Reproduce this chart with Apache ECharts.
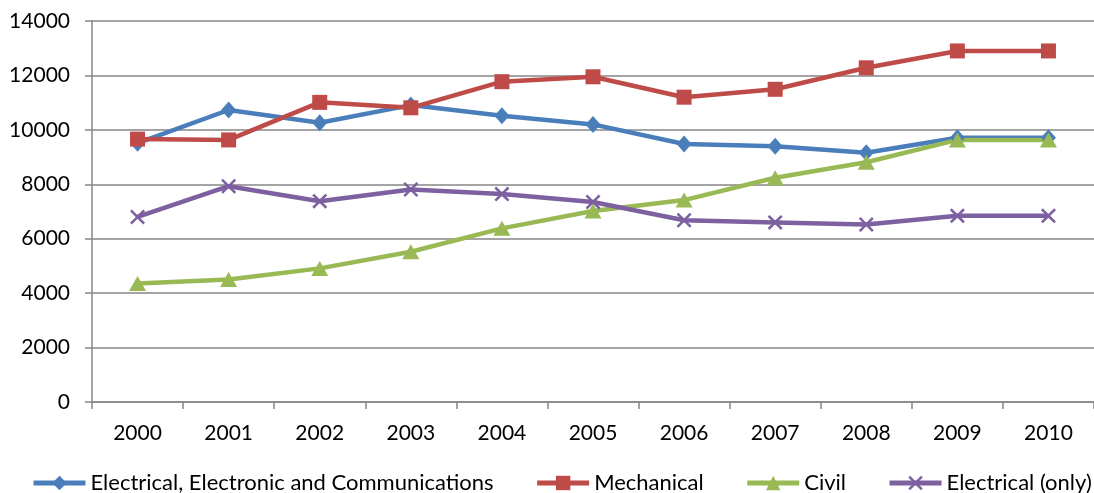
<!DOCTYPE html>
<html>
<head>
<meta charset="utf-8">
<script src="https://cdn.jsdelivr.net/npm/echarts@6/dist/echarts.min.js"></script>
<style>
  html, body { margin: 0; padding: 0; background: #fff; }
  #chart { width: 1094px; height: 493px; }
</style>
</head>
<body>
<div id="chart"></div>
<script>
// Graduates by engineering discipline, 2000-2010
const years = ['2000', '2001', '2002', '2003', '2004', '2005', '2006', '2007', '2008', '2009', '2010'];
const electricalElectronicComms = [9510, 10730, 10260, 10910, 10520, 10200, 9480, 9400, 9160, 9710, 9710];
const mechanical = [9660, 9630, 11010, 10810, 11770, 11950, 11200, 11490, 12280, 12900, 12900];
const civil = [4350, 4500, 4910, 5520, 6380, 7020, 7420, 8240, 8810, 9630, 9630];
const electricalOnly = [6800, 7930, 7380, 7810, 7640, 7350, 6680, 6600, 6520, 6840, 6840];
const yTicks = [0, 2000, 4000, 6000, 8000, 10000, 12000, 14000];

const FONT = 'Lato, "Open Sans", sans-serif';
const crossPath = 'path://M0,1.2 L1.2,0 L5,3.8 L8.8,0 L10,1.2 L6.2,5 L10,8.8 L8.8,10 L5,6.2 L1.2,10 L0,8.8 L3.8,5 Z';

function lineSeries(name, data, color, symbol, size) {
  return {
    name: name,
    type: 'line',
    data: data,
    symbol: symbol,
    symbolSize: size,
    showAllSymbol: true,
    lineStyle: { color: color, width: 4.5 },
    itemStyle: { color: color, borderWidth: 0 },
    emphasis: { disabled: true },
    animation: false
  };
}

const chart = echarts.init(document.getElementById('chart'), null, { renderer: 'canvas' });
chart.setOption({
  backgroundColor: '#ffffff',
  textStyle: { fontFamily: FONT },
  grid: { left: 92, right: 0, top: 21, bottom: 91, containLabel: false },
  legend: {
    left: 31,
    top: 472,
    width: 1063,
    padding: 0,
    itemWidth: 52,
    itemHeight: 18,
    itemGap: 41,
    lineStyle: { width: 5 },
    textStyle: { fontFamily: FONT, fontSize: 22, color: '#000', padding: [0, 0, 0, 0] },
    data: ['Electrical, Electronic and Communications', 'Mechanical', 'Civil', 'Electrical (only)']
  },
  xAxis: {
    type: 'category',
    data: years,
    boundaryGap: true,
    axisLine: { lineStyle: { color: '#868686', width: 1.5 } },
    axisTick: { show: true, length: 7, alignWithLabel: false, lineStyle: { color: '#868686', width: 1.5 } },
    axisLabel: { color: '#000', fontSize: 21, fontFamily: FONT, margin: 21 },
    splitLine: { show: false }
  },
  yAxis: {
    type: 'value',
    min: yTicks[0],
    max: yTicks[yTicks.length - 1],
    interval: yTicks[1] - yTicks[0],
    axisLine: { show: true, lineStyle: { color: '#868686', width: 1.5 } },
    axisTick: { show: true, length: 7, lineStyle: { color: '#868686', width: 1.5 } },
    axisLabel: { color: '#000', fontSize: 21, fontFamily: FONT, margin: 22, formatter: v => String(v) },
    splitLine: { show: true, lineStyle: { color: '#868686', width: 1.5 } }
  },
  series: [
    lineSeries('Electrical, Electronic and Communications', electricalElectronicComms, '#4a7ebb', 'diamond', [15, 17]),
    lineSeries('Mechanical', mechanical, '#be4b48', 'rect', 15),
    lineSeries('Civil', civil, '#98b954', 'triangle', [17, 15]),
    lineSeries('Electrical (only)', electricalOnly, '#7d60a0', crossPath, 15)
  ]
});
</script>
</body>
</html>
